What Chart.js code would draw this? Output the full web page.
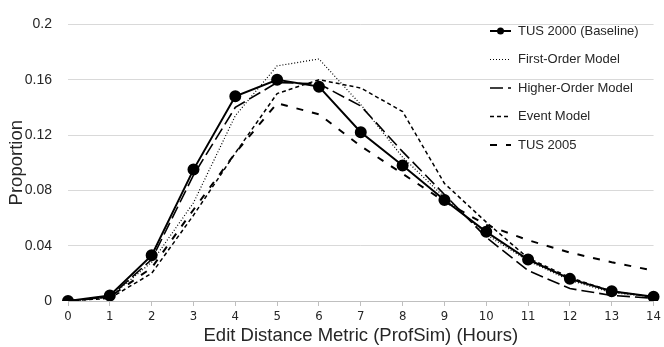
<!DOCTYPE html>
<html><head><meta charset="utf-8">
<script src="https://cdn.jsdelivr.net/npm/chart.js@4/dist/chart.umd.min.js"></script>
<style>html,body{margin:0;padding:0;background:#fff}#wrap{width:664px;height:347px;position:relative}</style>
</head><body><div id="wrap"><canvas id="c" width="664" height="347"></canvas></div>
<script>
const categories = ['0','1','2','3','4','5','6','7','8','9','10','11','12','13','14'];
const yTicks = [0, 0.04, 0.08, 0.12, 0.16, 0.2];
const tus2000 = [0, 0.004, 0.033, 0.095, 0.148, 0.160, 0.155, 0.122, 0.098, 0.073, 0.050, 0.030, 0.016, 0.007, 0.003];
const firstOrder = [0, 0.003, 0.028, 0.071, 0.134, 0.170, 0.175, 0.142, 0.104, 0.075, 0.048, 0.029, 0.015, 0.006, 0.003];
const higherOrder = [0, 0.003, 0.030, 0.091, 0.140, 0.158, 0.157, 0.141, 0.108, 0.077, 0.046, 0.022, 0.009, 0.004, 0.002];
const eventModel = [0, 0.002, 0.020, 0.062, 0.107, 0.150, 0.160, 0.154, 0.137, 0.085, 0.057, 0.031, 0.017, 0.007, 0.003];
const tus2005 = [0, 0.003, 0.024, 0.066, 0.107, 0.143, 0.135, 0.112, 0.092, 0.072, 0.055, 0.044, 0.035, 0.028, 0.022];
const seriesNames = ['TUS 2000 (Baseline)', 'First-Order Model', 'Higher-Order Model', 'Event Model', 'TUS 2005'];

const FONT = "'Liberation Sans', Arial, sans-serif";
const mk = (label, data, dash, width, pr) => ({
  label, data, borderColor: '#000', backgroundColor: '#000', borderWidth: width,
  borderDash: dash, pointRadius: pr, pointHoverRadius: pr, pointBackgroundColor: '#000',
  pointBorderColor: '#000', tension: 0, fill: false
});

const legendPlugin = {
  id: 'customLegend',
  afterDraw(chart) {
    const ctx = chart.ctx;
    const x0 = 490, x1 = 511, tx = 518;
    const ys = [31, 59.5, 88, 116.5, 145];
    chart.data.datasets.forEach((ds, i) => {
      const y = ys[i];
      ctx.save();
      ctx.strokeStyle = '#000';
      ctx.lineWidth = ds.borderWidth;
      ctx.setLineDash(ds.borderDash || []);
      ctx.beginPath(); ctx.moveTo(x0, y); ctx.lineTo(x1, y); ctx.stroke();
      ctx.setLineDash([]);
      if (ds.pointRadius > 0) {
        ctx.fillStyle = '#000';
        ctx.beginPath(); ctx.arc((x0 + x1) / 2, y, 3.5, 0, Math.PI * 2); ctx.fill();
      }
      ctx.fillStyle = '#262626';
      ctx.font = "13px " + FONT;
      ctx.textBaseline = 'middle';
      ctx.textAlign = 'left';
      ctx.fillText(ds.label, tx, y);
      ctx.restore();
    });
  }
};

new Chart(document.getElementById('c'), {
  type: 'line',
  data: {
    labels: categories,
    datasets: [
      mk(seriesNames[0], tus2000, [], 2, 5),
      mk(seriesNames[1], firstOrder, [1, 2], 1.2, 0),
      mk(seriesNames[2], higherOrder, [13, 5], 1.6, 0),
      mk(seriesNames[3], eventModel, [4, 3], 1.5, 0),
      mk(seriesNames[4], tus2005, [7, 9], 2, 0)
    ]
  },
  options: {
    responsive: false, animation: false,
    layout: { padding: { left: 0, right: 9, top: 17, bottom: 0 } },
    plugins: { legend: { display: false }, tooltip: { enabled: false } },
    scales: {
      x: {
        type: 'category', offset: false,
        grid: { display: true, drawOnChartArea: false, drawTicks: true, tickLength: 5, color: '#bfbfbf' },
        border: { display: true, color: '#bfbfbf', width: 1 },
        ticks: { color: '#262626', font: { family: "'Liberation Sans Narrow', 'DejaVu Sans Condensed', sans-serif", size: 13 }, padding: 3, maxRotation: 0, autoSkip: false },
        title: { display: true, text: 'Edit Distance Metric (ProfSim) (Hours)', color: '#262626', font: { family: FONT, size: 18.5 }, padding: { top: 0, bottom: 0 } },
        afterFit(s) { s.height = 46; }
      },
      y: {
        min: 0, max: 0.2,
        afterBuildTicks(s) { s.ticks = yTicks.map(v => ({ value: v })); },
        grid: { color: '#d9d9d9', drawTicks: false, lineWidth: 1 },
        border: { display: false },
        ticks: { color: '#262626', font: { family: FONT, size: 14 }, padding: 16, callback: v => String(Math.round(v * 100) / 100) },
        title: { display: true, text: 'Proportion', color: '#262626', font: { family: FONT, size: 18.5 }, padding: { top: 6, bottom: 0 } },
        afterFit(s) { s.width = 68; }
      }
    }
  },
  plugins: [legendPlugin]
});
</script></body></html>
